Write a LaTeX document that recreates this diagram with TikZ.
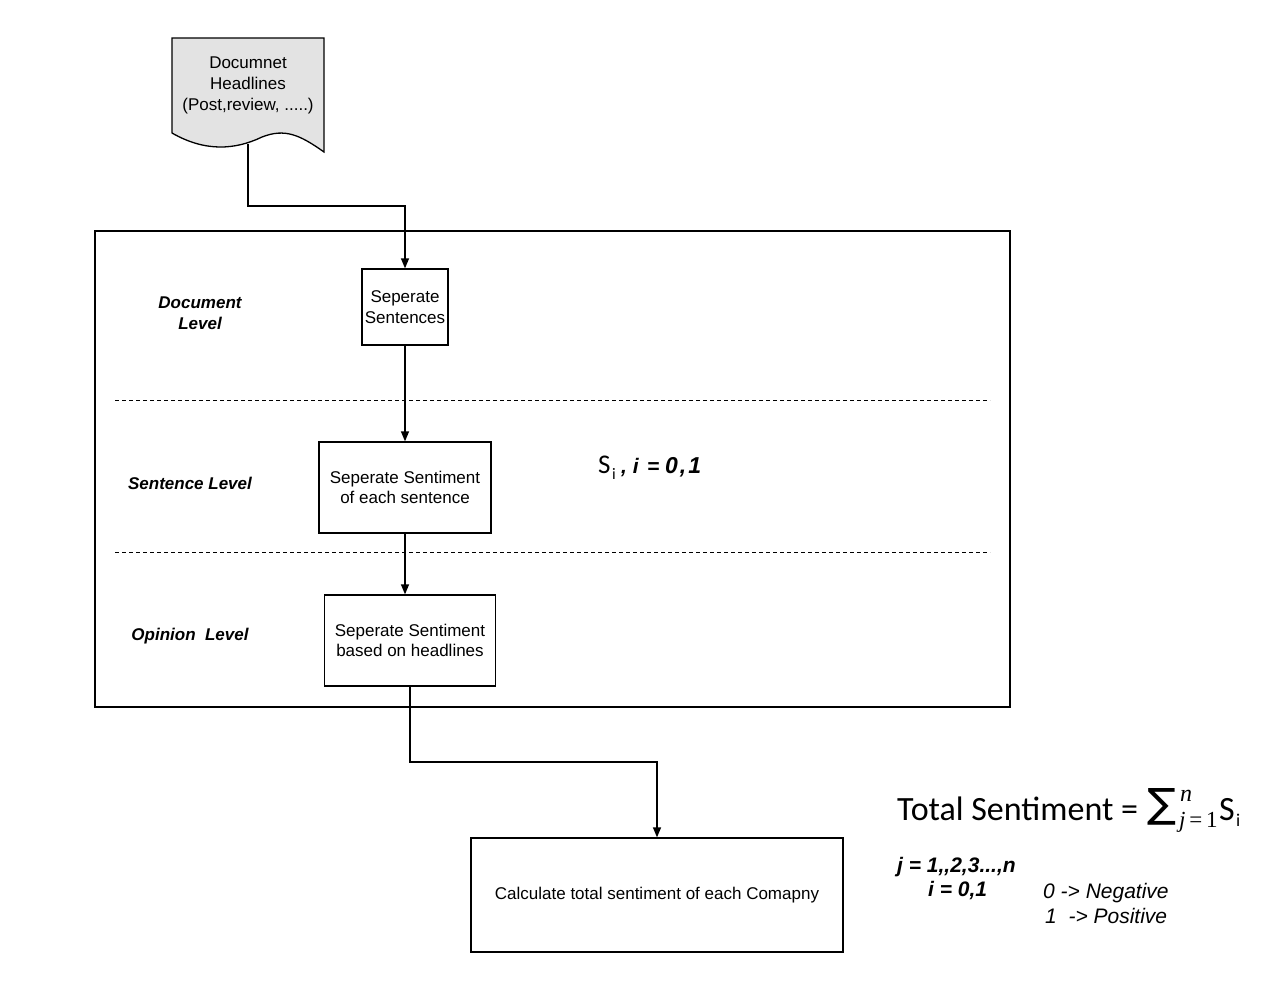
\documentclass[tikz,border=0pt]{standalone}
\usepackage{fontspec}
\usepackage{graphicx}
\setmainfont{Liberation Sans}
\newfontfamily\calfont{Carlito}
\newfontfamily\symfont{DejaVu Sans}
\newfontfamily\serfont{Liberation Serif}
\usetikzlibrary{arrows.meta}
\begin{document}
\begin{tikzpicture}[x=1pt,y=-1pt,
  box/.style={draw,line width=1.3pt,inner sep=0pt,align=center,font=\fontsize{17}{20.5}\selectfont},
  lvl/.style={font=\fontsize{17}{20.5}\selectfont\bfseries\itshape,align=center},
  arr/.style={line width=1.3pt,-{Triangle[length=10pt,width=8pt]}},
  dsh/.style={line width=1pt,dash pattern=on 4pt off 3pt},
  txt/.style={anchor=base west,inner sep=0pt},
  bi/.style={txt,font=\fontsize{21}{24}\selectfont\bfseries\itshape},
  it/.style={txt,font=\fontsize{21}{24}\selectfont\itshape}]
\useasboundingbox (0,0) rectangle (1280,991);
% document shape
\draw[line width=1.3pt,fill=gray!22] (172,38) -- (324,38) -- (324,152)
  .. controls (300,135) and (285,128) .. (262,137)
  .. controls (235,150) and (205,152) .. (172,133) -- cycle;
\node[align=center,font=\fontsize{17}{21}\selectfont] (doc) at (248,85) {Documnet\\Headlines\\(Post,review, .....)};
\coordinate (docb) at (248,144);
% big frame
\draw[line width=1.3pt] (95,231) rectangle (1010,707);
\draw[dsh] (115,400) -- (990,400);
\draw[dsh] (115,552) -- (990,552);
% boxes
\node[box,minimum width=86pt,minimum height=76pt] (b1) at (405,307) {Seperate\\Sentences};
\node[box,minimum width=172pt,minimum height=91pt] (b2) at (405,487.5) {Seperate Sentiment\\of each sentence};
\node[box,minimum width=171pt,minimum height=91pt] (b3) at (410,640.5) {Seperate Sentiment\\based on headlines};
\node[box,minimum width=372pt,minimum height=114pt] (b4) at (657,895) {Calculate total sentiment of each Comapny};
% level labels
\node[lvl] (l1) at (200,313) {Document\\Level};
\node[lvl] (l2) at (190,483) {Sentence Level};
\node[lvl] (l3) at (190,636) {Opinion\ \ Level};
% connectors
\draw[arr] (docb) |- (405,206) -- (b1.north);
\draw[arr] (b1.south) -- (b2.north);
\draw[arr] (b2.south) -- (b2.south |- b3.north);
\draw[arr] (b3.south) |- (657,762) -- (b4.north);
% S_i , i = 0,1
\node[txt,font=\calfont\fontsize{27}{30}\selectfont] (siS) at (598,473) {S};
\node[txt,font=\calfont\fontsize{16}{18}\selectfont] (sii) at (612,479) {i};
\node[bi] (sic) at (621,473) {, i};
\node[bi] (sie) at (647,473) {=};
\node[bi,font=\fontsize{23}{26}\selectfont\bfseries\itshape] (si01) at (665,473) {0\hspace{2pt},\hspace{2pt}1};
% total sentiment formula
\node[txt,font=\calfont\fontsize{34}{36}\selectfont] (tot) at (897,820) {Total Sentiment =};
\node[anchor=south west,inner sep=0pt] (sig) at (1147,825) {\resizebox{29pt}{29pt}{\symfont ∑}};
\node[txt,font=\serfont\fontsize{24}{26}\selectfont\itshape] (sn) at (1180,801) {n};
\node[txt,font=\serfont\fontsize{23}{26}\selectfont] (sj) at (1179,827) {\textit{j}\,=\,1};
\node[txt,font=\calfont\fontsize{34}{36}\selectfont] (tS) at (1219,820) {S};
\node[txt,font=\calfont\fontsize{18}{20}\selectfont] (ti) at (1236,826) {i};
% legend
\node[bi] (jj) at (897,872) {j = 1,{},2,3...,n};
\node[bi] (ii) at (928,896) {i = 0,1};
\node[it] (neg) at (1043,898) {0 -> Negative};
\node[it] (pos) at (1045,923) {1\ \ -> Positive};
\end{tikzpicture}
\end{document}
